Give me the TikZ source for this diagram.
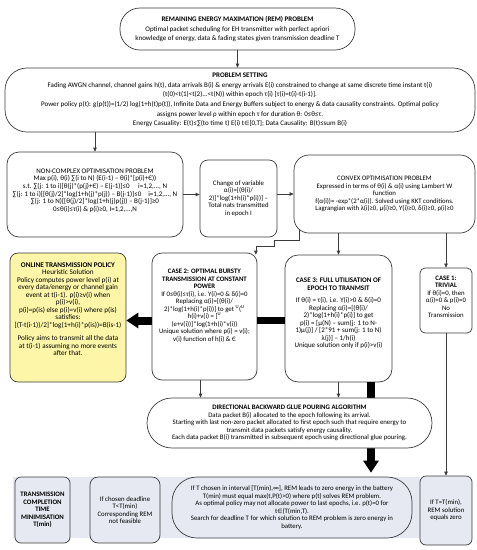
\documentclass[tikz,border=0pt]{standalone}
\usepackage{fontspec}
\setmainfont{Carlito}
\newfontfamily\dejavu{DejaVu Sans}
\usetikzlibrary{arrows.meta}

\definecolor{linegray}{HTML}{3C3C3C}
\definecolor{onlinefill}{HTML}{FDF6A9}
\definecolor{bandfill}{HTML}{E6E9F2}

\newcommand{\bigtext}{\fontsize{7}{9.6}\selectfont}
\newcommand{\smalltext}{\fontsize{6.8}{7.5}\selectfont}
\newcommand{\elemof}{{\dejavu\fontsize{6}{7}\selectfont ∈}}

\tikzset{
  box/.style={draw=linegray, line width=0.7pt, align=center, inner sep=1pt, font=\smalltext},
  bigarrow/.style={line width=8pt, -{Triangle[length=12pt,width=15pt]}},
  thinline/.style={draw=linegray, line width=0.7pt},
}

\begin{document}
\begin{tikzpicture}[x=1pt,y=-1pt,->,>={Triangle[length=4pt,width=3.5pt]}]
\useasboundingbox (0,0) rectangle (477,550);
\fill[bandfill] (13,477) rectangle (420,538);
% top of the flow
\node[box, rounded corners=20pt, minimum width=235pt, minimum height=42pt, font=\bigtext] (rem) at (237.5,29)
  {\textbf{REMAINING ENERGY MAXIMATION (REM) PROBLEM}\\
   Optimal packet scheduling for EH transmitter with perfect apriori\\
   knowledge of energy, data \& fading states given transmission deadline T};
\node[box, rounded corners=22pt, minimum width=470pt, minimum height=64pt, font=\bigtext] (ps) at (240,100)
  {\textbf{PROBLEM SETTING}\\
   Fading AWGN channel, channel gains h(t), data arrivals B(i) \& energy arrivals E(i) constrained to change at same discrete time instant t(i)\\
   (t(0)<t(1)<t(2)...<t(N)) within epoch τ(i) [τ(i)=t(i)-t(i-1)].\\
   Power policy p(t): g(p(t))=(1/2) log(1+h(t)p(t)), Infinite Data and Energy Buffers subject to energy \& data causality constraints. Optimal policy\\
   assigns power level ρ within epoch τ for duration θ: 0≤θ≤τ.\\
   Energy Casuality: E(t)≤∑(to time t) E(i) t\elemof[0,T]; Data Causality: B(t)≤sum B(i)};
% optimisation problems
\node[box, rounded corners=12pt, minimum width=176pt, minimum height=85pt, font=\fontsize{7}{7.6}\selectfont] (nc) at (95,194.5)
  {NON-COMPLEX OPTIMISATION PROBLEM\\
   Max p(i), θ(i) ∑(i to N) (E(i-1) – θ(i)*[p(i)+Є))\\
   s.t. ∑(j: 1 to i)[θ(j)*(p(j)+Є) – E(j-1)]≤0\quad\ i=1,2,..., N\\
   ∑(j: 1 to i)[[θ(j)/2]*log(1+h(j)*p(j)) – B(j-1)]≤0\quad i=1,2,..., N\\
   ∑(j: 1 to N)[[θ(j)/2]*log(1+h(j)p(j)) – B(j-1)]≥0\\
   0≤θ(i)≤τ(i) \& p(i)≥0, I=1,2,...,N\\[1.5pt]\mbox{}};
\node[box, rounded corners=8pt, minimum width=77pt, minimum height=77pt] (cov) at (238.5,198.5)
  {Change of variable\\ α(i)=[(θ(i)/\\ 2)]*log(1+h(i)*p(i))] –\\ Total nats transmitted\\ in epoch I};
\node[box, rounded corners=15pt, minimum width=181pt, minimum height=78pt] (convex) at (384.5,194)
  {CONVEX OPTIMISATION PROBLEM\\
   Expressed in terms of θ(i) \& α(i) using Lambert W\\ function\\
   f(α(i))= -exp*(2*α(i)). Solved using KKT conditions.\\
   Lagrangian with λ(i)≥0, μ(i)≥0, Υ(i)≥0, δ(i)≥0, ρ(i)≥0};
% cases
\node[box, rounded corners=8pt, fill=onlinefill, minimum width=116pt, minimum height=129pt, font=\fontsize{7.2}{7.5}\selectfont] (online) at (68,317.5)
  {\textbf{ONLINE TRANSMISSION POLICY}\\ Heuristic Solution\\
   Policy computes power level p(i) at\\ every data/energy or channel gain\\
   event at t(i-1). p(i)≥v(i) when\\ p(i)>v(i),\\
   p(i)=p(is) else p(i)=v(i) where p(is)\\ satisfies:\\
   {[}(T-t(i-1))/2]*log(1+h(i)*p(is))=B(is-1)\\[6pt]
   Policy aims to transmit all the data\\ at t(i-1) assuming no more events\\ after that.\\[9pt]\mbox{}};
\node[box, rounded corners=10pt, minimum width=105pt, minimum height=127pt] (case2) at (204.5,316.5)
  {\textbf{CASE 2: OPTIMAL BURSTY}\\ \textbf{TRANSMISSION AT CONSTANT}\\ \textbf{POWER}\\
   If 0≤θ(i)≤τ(i), i.e. Υ(i)=0 \& δ(i)=0\\ Replacing α(i)=[(θ(i)/\\
   2)*log(1+h(i)*p(i))] to get \textsuperscript{U}(\textsuperscript{U}\\
   h(i)+v(i) = [\textsuperscript{U}\\ (e+v(i))]*log(1+h(i)*v(i))\\
   Unique solution where p(i) = v(i);\\ v(i) function of h(i) \& Є\\[15pt]\mbox{}};
\node[box, rounded corners=13pt, minimum width=107pt, minimum height=127pt, font=\fontsize{7}{7.5}\selectfont] (case3) at (338.5,318.5)
  {\textbf{CASE 3: FULL UTILISATION OF}\\ \textbf{EPOCH TO TRANMSIT}\\[5pt]
   If θ(i) = τ(i), i.e. Υ(i)>0 \& δ(i)=0\\ Replacing α(i)=[(θ(i)/\\
   2)*log(1+h(i)*p(i)] to get\\ p(i) = [μ(N) – sum(j: 1 to N-\\
   1)μ(j)] / [2*91 + sum(j: 1 to N)\\ λ(j)] – 1/h(i)\\
   Unique solution only if p(i)>v(i)\\[3.5pt]\mbox{}};
\node[box, rounded corners=5pt, minimum width=52pt, minimum height=65pt] (case1) at (446,300.5)
  {\textbf{CASE 1:}\\ \textbf{TRIVIAL}\\ If θ(i)=0, then\\ α(i)=0 \& p(i)=0\\ No\\ Transmission\\[0pt]\mbox{}};
% deadline row
\node[box, rounded corners=6pt, fill=bandfill, minimum width=55pt, minimum height=66pt] (boxa) at (42.5,510)
  {\textbf{TRANSMISSION}\\ \textbf{COMPLETION}\\ \textbf{TIME}\\ \textbf{MINIMISATION}\\ \textbf{T(min)}};
\node[box, rounded corners=8pt, fill=bandfill, minimum width=70pt, minimum height=66pt] (boxb) at (125,510)
  {If chosen deadline\\ T<T(min)\\ Corresponding REM\\ not feasible};
\node[box, rounded corners=25pt, fill=bandfill, minimum width=240pt, minimum height=61pt] (boxc) at (292,507.5)
  {If T chosen in interval [T(min),∞], REM leads to zero energy in the battery\\
   T(min) must equal max(t,P(t)>0) where p(t) solves REM problem.\\
   As optimal policy may not allocate power to last epochs, i.e. p(t)=0 for\\
   t\elemof(T(min,T).\\
   Search for deadline T for which solution to REM problem is zero energy in\\ battery.};
\node[box, rounded corners=6pt, fill=bandfill, minimum width=52pt, minimum height=69pt] (boxd) at (446,510.5)
  {If T=T(min),\\ REM solution\\ equals zero};
% thick bar behind the glue pouring box
\draw[bigarrow, shorten >=4pt] ([xshift=32.5pt]case3.south) -- ([xshift=32.5pt]case3.south |- boxc.north);
\node[box, rounded corners=25pt, fill=white, minimum width=285pt, minimum height=50pt] (dbgp) at (289.5,423)
  {\textbf{DIRECTIONAL BACKWARD GLUE POURING ALGORITHM}\\
   Data packet B(i) allocated to the epoch following its arrival.\\
   Starting with last non-zero packet allocated to first epoch such that require energy to\\
   transmit data packets satisfy energy causality.\\
   Each data packet B(i) transmitted in subsequent epoch using directional glue pouring.};
% connectors
\draw[thinline] (rem.south) -- (rem.south |- ps.north);
\draw[thinline] (ps.south -| nc.north) -- (nc.north);
\draw[thinline] (nc.east) -- (nc.east -| cov.west);
\draw[thinline] (convex.west -| cov.east) -- (convex.west);
\draw[thinline] ([xshift=6pt,yshift=3pt]convex.south west) -- ++(0,10) -- ++(-25,0) -- ++(0,6)
  -| ([xshift=-1.5pt,yshift=-2pt]case2.north east);
\draw[thinline] (case3.north |- convex.south) -- (case3.north);
\draw[thinline] (case1.north |- convex.south) -- (case1.north);
\draw[bigarrow] ([yshift=-4pt]case2.west) -- ([yshift=-4pt]case2.west -| online.east);
\draw[-, line width=7pt] ([yshift=-4pt]case2.east) -- ([yshift=-4pt]case2.east -| case3.west);
\draw[thinline] ([xshift=-4pt]case2.south) -- ([xshift=-4pt]case2.south |- dbgp.north);
\draw[thinline] (case3.south) -- (case3.south |- dbgp.north);
\draw[thinline] (case1.south) -- (boxd.north);
\end{tikzpicture}
\end{document}
